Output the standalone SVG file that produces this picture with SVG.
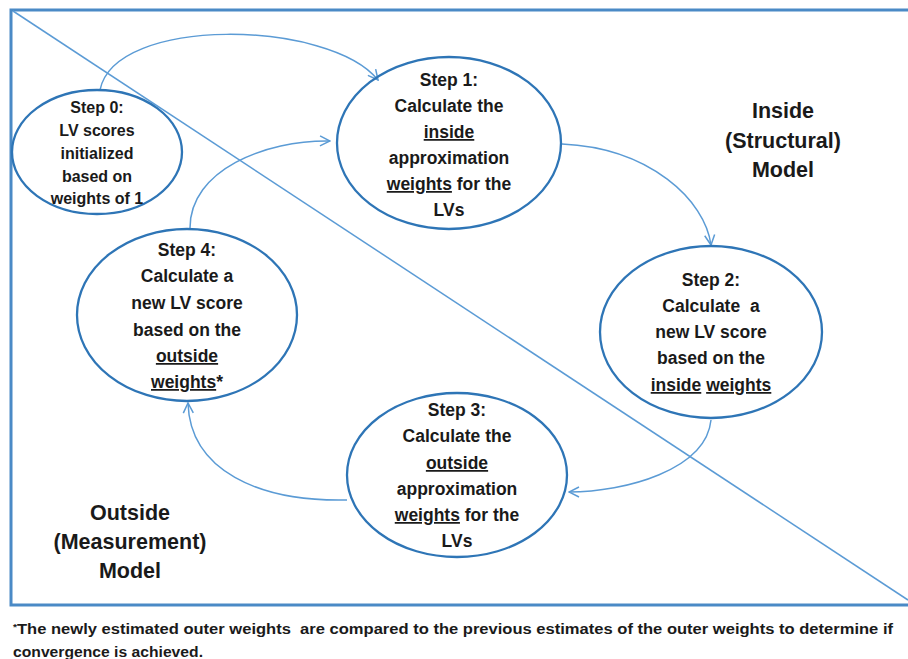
<svg xmlns="http://www.w3.org/2000/svg" width="908" height="659" viewBox="0 0 908 659">
<defs>
<marker id="arr" viewBox="0 0 12 12" refX="11" refY="6" markerWidth="12" markerHeight="12" markerUnits="userSpaceOnUse" orient="auto">
<path d="M1,1 L11,6 L1,11" fill="none" stroke="#5b9bd5" stroke-width="1.5"/>
</marker>
<style>
.node{fill:none;stroke:#2e75b6;stroke-width:2.3}
.t{font-family:"Liberation Sans",Arial,sans-serif;font-weight:bold;font-size:17.5px;fill:#1a1a1a;text-anchor:middle}
.s{font-size:16px}
.lbl{font-family:"Liberation Sans",Arial,sans-serif;font-weight:bold;font-size:21.5px;fill:#1a1a1a;text-anchor:middle}
.u{text-decoration:underline}
.conn{fill:none;stroke:#5b9bd5;stroke-width:1.5;marker-end:url(#arr)}
</style>
</defs>
<rect width="908" height="659" fill="#fff"/>
<path d="M912,10 H11 V605 H912" fill="none" stroke="#4a8ac6" stroke-width="3"/>
<line x1="13" y1="11" x2="908" y2="600" stroke="#5b9bd5" stroke-width="1.5"/>
<g id="connectors">
<path class="conn" d="M100,90 C115,15 330,20 378,80"/>
<path class="conn" d="M190,228 C190,170 265,140 330,141"/>
<path class="conn" d="M562,144 C650,148 705,200 711,245"/>
<path class="conn" d="M711,420 C706,470 625,492 569,492"/>
<path class="conn" d="M347,500 C258,502 190,470 188,403"/>
</g>
<g id="step0">
<ellipse class="node" cx="97" cy="152" rx="85" ry="62"/>
<text class="t s" x="97" y="113">Step 0:</text>
<text class="t s" x="97" y="136">LV scores</text>
<text class="t s" x="97" y="159">initialized</text>
<text class="t s" x="97" y="182">based on</text>
<text class="t s" x="97" y="204">weights of 1</text>
</g>
<g id="step1">
<ellipse class="node" cx="449" cy="143" rx="112" ry="86"/>
<text class="t" x="449" y="86">Step 1:</text>
<text class="t" x="449" y="112">Calculate the</text>
<text class="t" x="449" y="138"><tspan class="u">inside</tspan></text>
<text class="t" x="449" y="164">approximation</text>
<text class="t" x="449" y="190"><tspan class="u">weights</tspan> for the</text>
<text class="t" x="449" y="216">LVs</text>
</g>
<g id="step2">
<ellipse class="node" cx="711" cy="332" rx="111" ry="86"/>
<text class="t" x="711" y="286">Step 2:</text>
<text class="t" x="711" y="312" xml:space="preserve">Calculate  a</text>
<text class="t" x="711" y="338">new LV score</text>
<text class="t" x="711" y="364">based on the</text>
<text class="t" x="711" y="391"><tspan class="u">inside</tspan> <tspan class="u">weights</tspan></text>
</g>
<g id="step3">
<ellipse class="node" cx="457" cy="475" rx="110" ry="82"/>
<text class="t" x="457" y="416">Step 3:</text>
<text class="t" x="457" y="442">Calculate the</text>
<text class="t" x="457" y="469"><tspan class="u">outside</tspan></text>
<text class="t" x="457" y="495">approximation</text>
<text class="t" x="457" y="521"><tspan class="u">weights</tspan> for the</text>
<text class="t" x="457" y="547">LVs</text>
</g>
<g id="step4">
<ellipse class="node" cx="187" cy="315" rx="110" ry="86"/>
<text class="t" x="187" y="256">Step 4:</text>
<text class="t" x="187" y="282">Calculate a</text>
<text class="t" x="187" y="309">new LV score</text>
<text class="t" x="187" y="336">based on the</text>
<text class="t" x="187" y="362"><tspan class="u">outside</tspan></text>
<text class="t" x="187" y="388"><tspan class="u">weights</tspan>*</text>
</g>
<g id="inside-label">
<text class="lbl" x="783" y="118">Inside</text>
<text class="lbl" x="783" y="148">(Structural)</text>
<text class="lbl" x="783" y="177">Model</text>
</g>
<g id="outside-label">
<text class="lbl" x="130" y="520">Outside</text>
<text class="lbl" x="130" y="549">(Measurement)</text>
<text class="lbl" x="130" y="578">Model</text>
</g>
<g id="footnote">
<text x="13" y="634" font-family="'Liberation Sans',Arial,sans-serif" font-weight="bold" font-size="14.5" fill="#1a1a1a" textLength="880" lengthAdjust="spacingAndGlyphs" xml:space="preserve"><tspan font-size="9" dy="-4">*</tspan><tspan dy="4">The newly estimated outer weights  are compared to the previous estimates of the outer weights to determine if</tspan></text>
<text x="13" y="657" font-family="'Liberation Sans',Arial,sans-serif" font-weight="bold" font-size="14.5" fill="#1a1a1a" textLength="190" lengthAdjust="spacingAndGlyphs">convergence is achieved.</text>
</g>
</svg>
